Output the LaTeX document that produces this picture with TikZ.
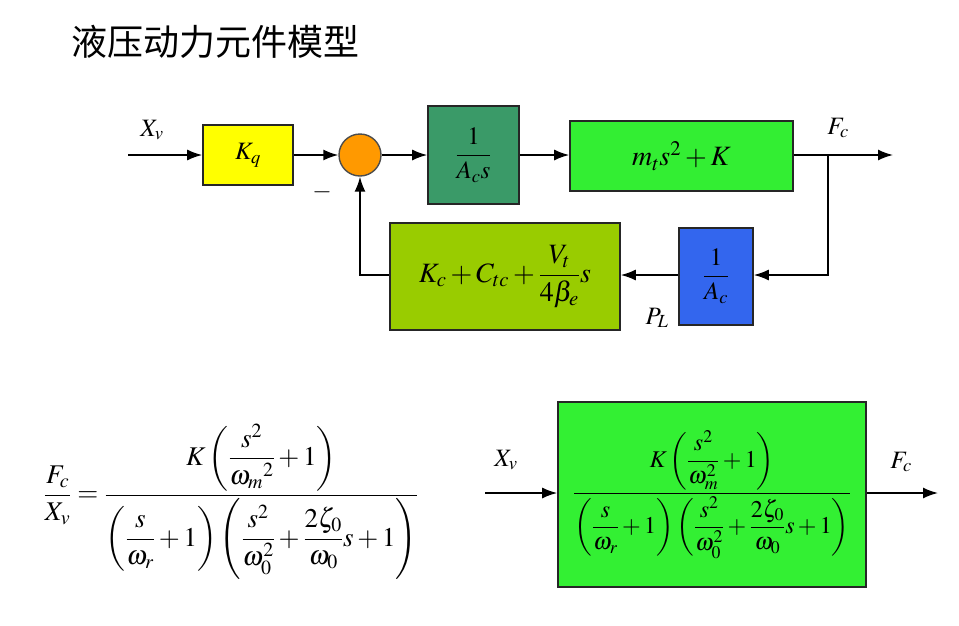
\RequirePackage{fix-cm}
\documentclass[tikz,border=0pt]{standalone}
\usepackage{amsmath}
\usepackage{mathptmx}
\usepackage{fontspec}
\setmainfont{Liberation Serif}
\newfontfamily\cjk{Noto Sans CJK SC}
\usetikzlibrary{arrows.meta}
\definecolor{kqyellow}{HTML}{FFFF00}
\definecolor{darkgreen}{HTML}{3A9A68}
\definecolor{brightgreen}{HTML}{33EE33}
\definecolor{lowgreen}{HTML}{33F033}
\definecolor{olive}{HTML}{99CC00}
\definecolor{bluebox}{HTML}{3366EE}
\definecolor{sumorange}{HTML}{FF9900}
\newcommand{\sizeA}{\fontsize{25}{30}\selectfont}
\newcommand{\sizeD}{\fontsize{28}{33}\selectfont}
\newcommand{\sizeB}{\fontsize{27}{32}\selectfont}
\newcommand{\sizeC}{\fontsize{24}{28}\selectfont}
\tikzset{
  blk/.style={draw=black!85, line width=1.6pt, minimum width=#1, inner sep=0pt},
  sig/.style={line width=1.6pt, -{Latex[length=15pt,width=11pt]}},
  wire/.style={line width=1.6pt}
}
\begin{document}
\begin{tikzpicture}[x=1pt,y=-1pt]
\useasboundingbox (0,0) rectangle (959,625);
% title
\node[anchor=west, font=\cjk\fontsize{36}{40}\selectfont] (title) at (68,42) {液压动力元件模型};
% top diagram
\node[blk=90pt, minimum height=60pt, fill=kqyellow, font=\sizeA] (kq) at (248,155) {$K_q$};
\node[circle, draw=black!70, line width=1.4pt, fill=sumorange, minimum size=42pt, inner sep=0pt] (sum) at (360,155) {};
\node[blk=91pt, minimum height=98pt, fill=darkgreen, font=\sizeA] (ias) at (473.5,155) {$\dfrac{1}{A_c s}$};
\node[blk=223pt, minimum height=70pt, fill=brightgreen, font=\sizeD] (mt) at (681.5,156) {$m_t s^2 + K$};
\node[blk=74pt, minimum height=97pt, fill=bluebox, font=\sizeA] (ia) at (716,276.5) {$\dfrac{1}{A_c}$};
\node[blk=230pt, minimum height=107pt, fill=olive, font=\sizeD] (fb) at (505,276.5) {$K_c + C_{tc} + \dfrac{V_t}{4\beta_e}s$};
\coordinate (xin) at (128,155);
\coordinate (fout) at (893,155);
\coordinate (br) at (828,155);
\coordinate (brd) at (828,275);
\coordinate (fbl) at (360,275);
\node[font=\sizeA] (xv) at (152,130) {$X_v$};
\node[font=\sizeA] (fc) at (838,128) {$F_c$};
\node[font=\sizeA] (pl) at (657,318) {$P_L$};
\node[font=\sizeA] (minus) at (322,192) {$-$};
\draw[sig] (xin) -- (kq.west);
\draw[sig] (kq.east) -- (sum.west);
\draw[sig] (sum.east) -- (ias.west);
\draw[sig] (ias.east) -- (mt.west |- ias.east);
\draw[sig] (mt.east |- br) -- (fout);
\draw[sig] (br) -- (brd) -- (ia.east |- brd);
\draw[sig] (ia.west |- brd) -- (fb.east |- brd);
\draw[sig] (fb.west |- fbl) -- (fbl) -- (sum.south);
% bottom formula
\node[font=\sizeB] (tf) at (231,502) {$\dfrac{F_c}{X_v} = \dfrac{K\left(\dfrac{s^2}{\omega_m{}^2}+1\right)}{\left(\dfrac{s}{\omega_r}+1\right)\left(\dfrac{s^2}{\omega_0^2}+\dfrac{2\zeta_0}{\omega_0}s+1\right)}$};
% bottom right block
\node[blk=308pt, minimum height=185pt, fill=lowgreen, font=\sizeC] (tb) at (712,494.5) {$\dfrac{K\left(\dfrac{s^2}{\omega_m^2}+1\right)}{\left(\dfrac{s}{\omega_r}+1\right)\left(\dfrac{s^2}{\omega_0^2}+\dfrac{2\zeta_0}{\omega_0}s+1\right)}$};
\coordinate (xin2) at (485,493);
\coordinate (fout2) at (938,493);
\node[font=\sizeA] (xv2) at (506,460) {$X_v$};
\node[font=\sizeA] (fc2) at (901,462) {$F_c$};
\draw[sig] (xin2) -- (tb.west |- xin2);
\draw[sig] (tb.east |- fout2) -- (fout2);
\end{tikzpicture}
\end{document}
